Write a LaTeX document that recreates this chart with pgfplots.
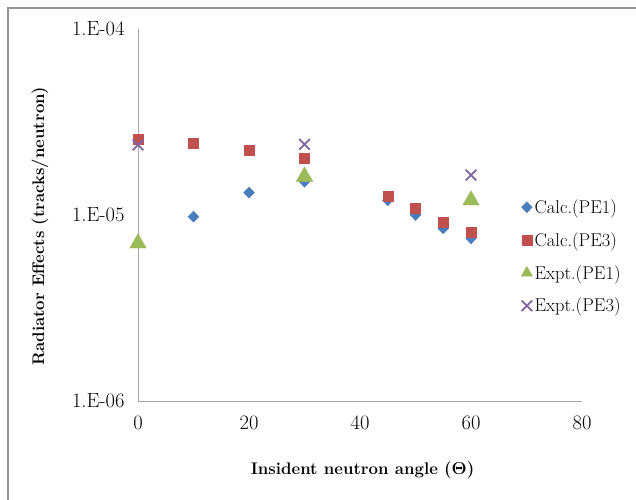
\documentclass[border=0pt]{standalone}
\usepackage{fontspec}
\usepackage{pgfplots}
\pgfplotsset{compat=1.18}
\definecolor{cblue}{HTML}{4A7EBB}
\definecolor{cred}{HTML}{C0504D}
\definecolor{cgreen}{HTML}{9BBB59}
\definecolor{cpurple}{HTML}{8064A2}
\definecolor{axgray}{HTML}{A6A6A6}
\begin{document}
\begin{tikzpicture}
\useasboundingbox (0,0) rectangle (636pt,499pt);
\draw[axgray!90!black, line width=1.5pt] (8pt,-20pt) -- (8pt,491pt) -- (660pt,491pt);
\begin{axis}[
  at={(138pt,98pt)}, anchor=south west,
  scale only axis, width=444pt, height=372pt,
  xmin=0, xmax=80, ymode=log, ymin=1e-6, ymax=1e-4,
  axis x line*=bottom, axis y line*=left,
  axis line style={axgray, line width=0.9pt, -},
  xtick={0,20,40,60,80}, xticklabels={0,20,40,60,80},
  ytick={1e-6,1e-5,1e-4}, yticklabels={1.E-06,1.E-05,1.E-04},
  minor ytick={}, tick style={draw=none},
  major tick length=0pt, minor tick length=0pt,
  ticklabel style={font=\fontsize{20.5}{20.5}\selectfont},
  xticklabel style={yshift=-11pt},
  yticklabel style={xshift=-10pt},
  xlabel={\textbf{Insident neutron angle \boldmath$(\Theta)$}},
  ylabel={\textbf{Radiator Effects (tracks/neutron)}},
  label style={font=\fontsize{16.8}{16.8}\selectfont},
  xlabel style={at={(axis description cs:0.506,-0.185)}, anchor=center},
  ylabel style={at={(axis description cs:-0.221,0.47)}, anchor=center},
  legend style={draw=none, fill=none, at={(0.856,0.553)}, anchor=north west,
    font=\fontsize{18.5}{18.5}\selectfont, row sep=13.5pt},
  legend cell align=left,
  clip=false,
]
\addplot[only marks, mark=diamond*, mark size=5.5pt, color=cblue, mark options={xscale=1.3}] coordinates {
(10,9.8e-6) (20,1.32e-5) (30,1.51e-5) (45,1.20e-5) (50,1.00e-5) (55,8.47e-6) (60,7.5e-6)};
\addlegendentry{Calc.(PE1)}
\addplot[only marks, mark=square*, mark size=5pt, color=cred] coordinates {
(0,2.55e-5) (10,2.43e-5) (20,2.22e-5) (30,2.03e-5) (45,1.26e-5) (50,1.09e-5) (55,9.17e-6) (60,8.07e-6)};
\addlegendentry{Calc.(PE3)}
\addplot[only marks, mark=triangle*, mark size=9.5pt, color=cgreen, legend image post style={mark size=6.5pt}] coordinates {
(0,7.05e-6) (30,1.61e-5) (60,1.20e-5)};
\addlegendentry{Expt.(PE1)}
\addplot[only marks, mark=x, mark size=7.5pt, color=cpurple, mark options={line width=1.8pt}] coordinates {
(0,2.38e-5) (30,2.40e-5) (60,1.64e-5)};
\addlegendentry{Expt.(PE3)}
\end{axis}
\end{tikzpicture}
\end{document}
